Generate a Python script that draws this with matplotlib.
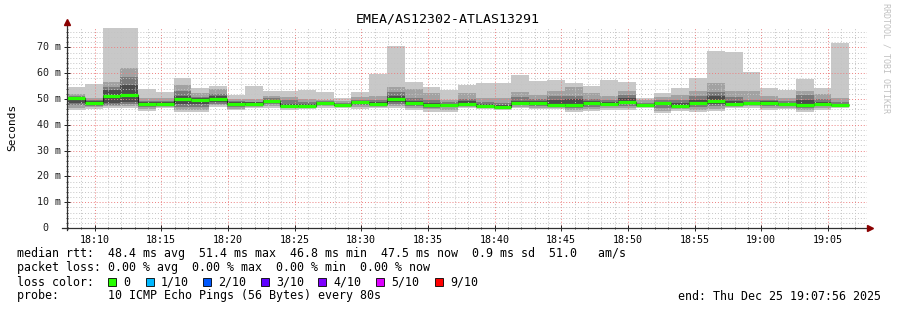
import numpy as np
import matplotlib.pyplot as plt
from matplotlib.patches import Rectangle
from matplotlib.ticker import MultipleLocator

W, H = 897, 310
MONO = 'DejaVu Sans Mono'

title = 'EMEA/AS12302-ATLAS13291'
start_min = 7 + 56 / 60          # first sample, minutes after 18:00
step_min = 80 / 60               # one probe round every 80 s

# sorted ping spread per round (ms): outer -> inner layers, plus the median
ping_max = [54.5, 56.0, 77.5, 77.5, 53.9, 52.8, 58.3, 54.1, 55.0, 51.6, 55.0,
            53.2, 53.2, 53.5, 52.6, 50.5, 52.6, 59.7, 70.5, 56.5, 54.7, 53.4,
            55.4, 56.2, 56.2, 59.3, 57.0, 57.5, 56.1, 55.0, 57.5, 56.7, 50.3,
            52.2, 54.1, 58.3, 68.6, 68.3, 60.3, 54.4, 53.5, 57.8, 54.1, 71.8]
ping_hi2 = [52.0, 50.5, 56.7, 61.9, 50.5, 50.3, 55.4, 52.2, 53.7, 50.0, 50.0,
            51.2, 50.9, 50.0, 49.6, 49.2, 50.9, 51.3, 54.8, 53.9, 52.2, 49.6,
            52.2, 50.3, 50.3, 52.6, 51.6, 53.1, 54.8, 52.2, 51.3, 53.2, 49.5,
            50.9, 51.6, 53.2, 56.3, 53.2, 53.2, 51.3, 50.5, 53.2, 51.9, 50.5]
ping_hi3 = [51.3, 49.6, 54.5, 58.7, 49.4, 49.3, 53.2, 50.8, 51.9, 49.2, 49.0,
            50.2, 49.5, 48.8, 49.2, 48.6, 49.8, 49.6, 52.8, 50.5, 49.5, 48.7,
            50.0, 48.9, 48.6, 50.6, 50.0, 51.0, 51.2, 50.0, 49.6, 51.5, 48.6,
            49.5, 49.6, 51.0, 52.8, 50.6, 49.8, 49.8, 49.2, 51.4, 50.0, 48.7]
ping_hi4 = [50.9, 49.1, 53.5, 55.4, 48.7, 48.7, 51.3, 50.2, 51.0, 48.8, 48.7,
            49.7, 48.2, 48.1, 48.9, 48.2, 49.3, 48.9, 51.2, 49.4, 48.6, 48.2,
            49.1, 48.1, 47.8, 49.3, 49.2, 49.5, 50.0, 49.1, 48.9, 50.2, 48.2,
            49.0, 48.6, 49.8, 51.0, 49.2, 49.0, 49.2, 48.6, 49.6, 49.0, 48.2]
median = [50.4, 48.6, 51.2, 51.7, 48.1, 48.1, 50.1, 49.6, 50.1, 48.2, 48.2,
          49.1, 47.4, 47.4, 48.5, 47.8, 48.7, 48.2, 50.0, 48.6, 47.7, 47.7,
          48.1, 47.4, 47.0, 48.5, 48.5, 47.7, 47.7, 48.3, 48.2, 48.7, 47.7,
          48.5, 47.4, 48.5, 49.2, 48.0, 48.3, 48.6, 48.0, 47.7, 48.1, 47.5]
ping_lo4 = [48.6, 47.9, 48.4, 49.0, 47.6, 47.8, 48.0, 48.2, 48.9, 47.6, 47.9,
            48.4, 47.1, 47.6, 48.0, 47.6, 48.1, 47.8, 48.9, 47.9, 47.2, 47.3,
            47.8, 47.2, 46.9, 47.9, 47.9, 47.4, 47.2, 47.7, 47.6, 48.0, 47.6,
            47.5, 47.0, 47.6, 48.1, 47.8, 48.0, 47.9, 47.6, 46.9, 47.7, 47.4]
ping_lo3 = [47.6, 47.3, 47.8, 48.2, 47.0, 47.4, 46.9, 46.8, 48.2, 47.0, 47.5,
            47.9, 46.9, 47.1, 47.7, 47.3, 47.6, 47.5, 48.2, 47.4, 46.7, 46.8,
            47.4, 47.0, 46.8, 47.5, 47.4, 47.1, 46.6, 47.0, 47.2, 47.3, 47.3,
            46.5, 46.6, 46.8, 47.2, 47.5, 47.6, 47.2, 47.2, 46.5, 47.1, 47.2]
ping_lo2 = [46.6, 46.8, 47.2, 47.4, 46.2, 47.0, 45.8, 45.9, 47.5, 46.3, 47.0,
            47.3, 46.4, 46.7, 47.2, 47.1, 46.8, 47.0, 47.4, 46.5, 46.0, 45.8,
            47.0, 46.7, 46.3, 47.0, 46.7, 46.7, 45.7, 46.1, 46.4, 46.4, 46.9,
            45.4, 46.0, 45.6, 46.1, 47.0, 47.2, 46.4, 46.7, 45.6, 46.4, 46.9]
ping_min = [45.8, 46.0, 46.4, 46.4, 45.3, 46.4, 44.8, 44.8, 47.0, 45.7, 46.4,
            46.7, 45.7, 46.1, 46.7, 46.7, 46.1, 46.4, 46.7, 45.7, 45.1, 44.8,
            46.4, 46.1, 45.7, 46.4, 46.1, 46.1, 44.8, 45.3, 45.7, 45.7, 46.4,
            44.4, 45.3, 44.8, 45.3, 46.4, 46.7, 45.7, 46.1, 44.8, 45.7, 46.4]

tick_minutes = [10, 15, 20, 25, 30, 35, 40, 45, 50, 55, 60, 65]
tick_labels = ['18:10', '18:15', '18:20', '18:25', '18:30', '18:35',
               '18:40', '18:45', '18:50', '18:55', '19:00', '19:05']
ytick_vals = [0, 10, 20, 30, 40, 50, 60, 70]
ytick_labels = ['0', '10 m', '20 m', '30 m', '40 m', '50 m', '60 m', '70 m']

loss_labels = ['0', '1/10', '2/10', '3/10', '4/10', '5/10', '9/10']
loss_colors = ['#26ff00', '#00b8ff', '#0059ff', '#5e00ff', '#7e00ff', '#dd00ff', '#ff0000']

legend_lines = [
    'median rtt:  48.4 ms avg  51.4 ms max  46.8 ms min  47.5 ms now  0.9 ms sd  51.0   am/s',
    'packet loss: 0.00 % avg  0.00 % max  0.00 % min  0.00 % now',
    'loss color:',
    'probe:       10 ICMP Echo Pings (56 Bytes) every 80s',
]
end_text = 'end: Thu Dec 25 19:07:56 2025'

fig = plt.figure(figsize=(W / 100, H / 100), dpi=100)
ax = fig.add_axes([67 / W, 1 - 228 / H, 800 / W, 201 / H])

n = len(median)
left = start_min + np.arange(n) * step_min

# smoke: outer pairs light, inner pairs dark
layers = [(ping_min, ping_max, '#c8c8c8'),
          (ping_lo2, ping_hi2, '#a2a2a2'),
          (ping_lo3, ping_hi3, '#7a7a7a'),
          (ping_lo4, ping_hi4, '#4c4c4c')]
for lo, hi, col in layers:
    lo = np.array(lo)
    hi = np.array(hi)
    ax.bar(left, hi - lo, bottom=lo, width=step_min, align='edge',
           color=col, linewidth=0, zorder=1)

# median: thin dark step + green loss-colored segments
edges = np.append(left, left[-1] + step_min)
ax.stairs(median, edges, color='#202020', linewidth=0.8, zorder=3, baseline=None)
ax.hlines(median, left, left + step_min, color=loss_colors[0], linewidth=2.3, zorder=4)

ax.set_xlim(start_min, start_min + 60)
ax.set_ylim(0, 201 / 2.58)

ax.set_xticks(tick_minutes, tick_labels)
ax.xaxis.set_minor_locator(MultipleLocator(1))
ax.set_yticks(ytick_vals)
ax.yaxis.set_minor_locator(MultipleLocator(2))
ax.set_yticklabels([])
ax.set_axisbelow(False)
ax.grid(which='minor', color='#c4c4c4', linestyle=(0, (1, 2)), linewidth=0.7)
ax.grid(which='major', color='#ec7f7f', linestyle=(0, (1, 2)), linewidth=0.7)
ax.tick_params(which='major', direction='inout', length=4, width=0.6, pad=3)
ax.tick_params(which='minor', direction='inout', length=2, width=0.5)
ax.tick_params(axis='x', labelsize=7.2)
for lbl in ax.get_xticklabels():
    lbl.set_family(MONO)
for s in ax.spines.values():
    s.set_visible(False)

# y tick labels placed by hand ("0" sits left of the unit column)
ytr = ax.get_yaxis_transform()
for v, lab in zip(ytick_vals, ytick_labels):
    dx = -19 / 800 if lab == '0' else -6 / 800
    ax.text(dx, v, lab, transform=ytr, ha='right', va='center',
            fontsize=7.2, family=MONO, color='#202020')

# axis lines with arrowheads
ax.plot([0, 0], [-0.01, 1.02], transform=ax.transAxes, color='#303030',
        linewidth=0.9, clip_on=False, zorder=5)
ax.plot([-0.006, 1.003], [0, 0], transform=ax.transAxes, color='#303030',
        linewidth=0.9, clip_on=False, zorder=5)
ax.plot([0], [1.025], marker='^', markersize=4, color='#8b0000',
        transform=ax.transAxes, clip_on=False, zorder=6)
ax.plot([1.004], [0], marker='>', markersize=4, color='#8b0000',
        transform=ax.transAxes, clip_on=False, zorder=6)

fig.text(448 / W, 1 - 19 / H, title, ha='center', va='center',
         fontsize=9.5, family=MONO)
fig.text(12 / W, 1 - 127 / H, 'Seconds', ha='center', va='center',
         rotation=90, fontsize=8, family=MONO)
fig.text(886 / W, 1 - 58 / H, 'RRDTOOL / TOBI OETIKER', ha='center', va='center',
         rotation=270, fontsize=6, family=MONO, color='#c0c0c0')

baselines = [257.5, 271.5, 285.5, 299.5]
for txt, yb in zip(legend_lines, baselines):
    fig.text(16.5 / W, 1 - yb / H, txt, ha='left', va='baseline',
             fontsize=8.35, family=MONO)
fig.text(881 / W, 1 - baselines[3] / H, end_text, ha='right', va='baseline',
         fontsize=8.35, family=MONO)

sq_x = [108, 146, 203, 261, 318, 376, 435]
for x, lab, col in zip(sq_x, loss_labels, loss_colors):
    fig.patches.append(Rectangle((x / W, 1 - 286 / H), 8 / W, 8 / H,
                                 transform=fig.transFigure, facecolor=col,
                                 edgecolor='black', linewidth=0.6))
    fig.text((x + 15) / W, 1 - baselines[2] / H, lab, ha='left', va='baseline',
             fontsize=8.35, family=MONO)

fig.savefig('out.png', dpi=100, facecolor='white')
